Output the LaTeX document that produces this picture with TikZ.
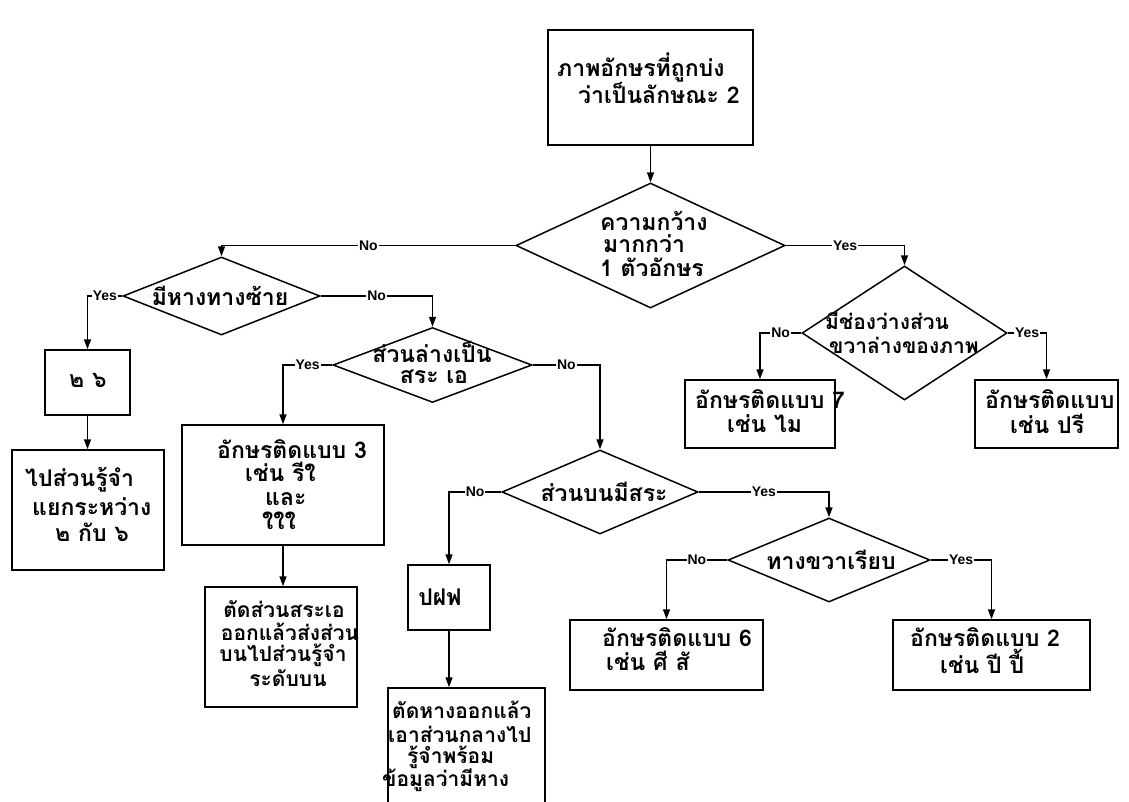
\documentclass[tikz,border=0pt]{standalone}
\usepackage{fontspec}
\newfontfamily\thaifont[Script=Thai]{Loma}
\setsansfont{Liberation Sans}
\usetikzlibrary{shapes.geometric,arrows.meta}
\begin{document}
\begin{tikzpicture}[x=1pt,y=-1pt,
  box/.style={draw, line width=1.5pt, rectangle, inner sep=0pt},
  dia/.style={draw, line width=1.5pt, diamond, inner sep=0pt},
  txt/.style={font=\thaifont\bfseries\fontsize{23}{25}\selectfont, inner sep=0pt, anchor=west},
  ctxt/.style={txt, anchor=center},
  small/.style={font=\thaifont\bfseries\fontsize{21}{23}\selectfont},
  lbl/.style={font=\sffamily\bfseries\fontsize{14}{15}\selectfont, fill=white, inner sep=1pt},
  con/.style={line width=1.5pt},
  arr/.style={con, -{Triangle[length=10pt,width=7pt]}}
]
\useasboundingbox (0,0) rectangle (1129,801);
\fill[white] (0,0) rectangle (1129,801);

% boxes
\node[box, minimum width=205pt, minimum height=115pt] (b0) at (650.5,87.5) {};
\node[box, minimum width=85pt, minimum height=65pt] (b26) at (87.5,382.5) {};
\node[box, minimum width=152pt, minimum height=120pt] (bgo) at (88,510) {};
\node[box, minimum width=202pt, minimum height=120pt] (b3) at (283,485) {};
\node[box, minimum width=152pt, minimum height=120pt] (bcut) at (281,647) {};
\node[box, minimum width=82pt, minimum height=65pt] (bpf) at (449,597.5) {};
\node[box, minimum width=157pt, minimum height=130pt] (btail) at (466.5,753) {};
\node[box, minimum width=193pt, minimum height=70pt] (b6) at (666.5,655) {};
\node[box, minimum width=197pt, minimum height=70pt] (b2) at (991.5,655) {};
\node[box, minimum width=150pt, minimum height=68pt] (b7) at (760,414) {};
\node[box, minimum width=143pt, minimum height=68pt] (bpri) at (1046.5,414) {};

% diamonds
\node[dia, minimum width=269pt, minimum height=125pt] (d1) at (650.5,245.5) {};
\node[dia, minimum width=197pt, minimum height=78pt] (d2) at (221.5,296) {};
\node[dia, minimum width=199pt, minimum height=75pt] (d3) at (432.5,365) {};
\node[dia, minimum width=196pt, minimum height=84pt] (d4) at (600,492) {};
\node[dia, minimum width=202pt, minimum height=84pt] (d5) at (829,560) {};
\node[dia, minimum width=205pt, minimum height=134pt] (d6) at (904.5,333) {};

% texts
\node[txt] (t0a) at (557,68) {ภาพอักษรที่ถูกบ่ง};
\node[txt] (t0b) at (578,93) {ว่าเป็นลักษณะ 2};
\node[txt] (td1a) at (600,221) {ความกว้าง};
\node[txt] (td1b) at (603,244) {มากกว่า};
\node[txt] (td1c) at (600,267) {1 ตัวอักษร};
\node[ctxt] (td2) at (220,296) {มีหางทางซ้าย};
\node[ctxt] (td3a) at (432,352) {ส่วนล่างเป็น};
\node[ctxt] (td3b) at (434,377) {สระ เอ};
\node[ctxt] (td4) at (604,492) {ส่วนบนมีสระ};
\node[ctxt] (td5) at (831,560) {ทางขวาเรียบ};
\node[txt, small] (td6a) at (825,321) {มีช่องว่างส่วน};
\node[txt, small] (td6b) at (829,345) {ขวาล่างของภาพ};
\node[ctxt] (t26) at (88,380) {๒ ๖};
\node[txt] (tgoa) at (25,480) {ไปส่วนรู้จำ};
\node[txt] (tgob) at (32,507) {แยกระหว่าง};
\node[txt] (tgoc) at (55,532) {๒ กับ ๖};
\node[txt] (t3a) at (217,449) {อักษรติดแบบ 3};
\node[txt] (t3b) at (245,472) {เช่น รีใ};
\node[txt] (t3c) at (265,499) {และ};
\node[txt] (t3d) at (262,521) {ใใใ};
\node[ctxt, small] (tcuta) at (284,609) {ตัดส่วนสระเอ};
\node[ctxt, small] (tcutb) at (290,632) {ออกแล้วส่งส่วน};
\node[ctxt, small] (tcutc) at (283,655) {บนไปส่วนรู้จำ};
\node[ctxt, small] (tcutd) at (288,678) {ระดับบน};
\node[ctxt] (tpf) at (440,597) {ปฝฟ};
\node[txt, small] (ttaila) at (392,710) {ตัดหางออกแล้ว};
\node[txt, small] (ttailb) at (388,734) {เอาส่วนกลางไป};
\node[txt, small] (ttailc) at (407,757) {รู้จำพร้อม};
\node[txt, small] (ttaild) at (382,780) {ข้อมูลว่ามีหาง};
\node[txt] (t6a) at (602,637) {อักษรติดแบบ 6};
\node[txt] (t6b) at (606,661) {เช่น ศี สั};
\node[txt] (t2a) at (910,637) {อักษรติดแบบ 2};
\node[txt] (t2b) at (940,661) {เช่น ปี ปี้};
\node[txt] (t7a) at (695,399) {อักษรติดแบบ 7};
\node[txt] (t7b) at (727,424) {เช่น ไม};
\node[txt] (tpria) at (985,399) {อักษรติดแบบ};
\node[txt] (tprib) at (1010,424) {เช่น ปรี};

% connectors
\draw[arr] (b0.south) -- (b0.south |- d1.north);
\draw[arr] (d1.west) -- node[lbl]{No} (d1.west -| d2.north) -- (d2.north);
\draw[arr] (d1.east) -- node[lbl]{Yes} (d1.east -| d6.north) -- (d6.north);
\draw[arr] (d2.west) -- node[lbl]{Yes} (d2.west -| b26.north) -- (b26.north);
\draw[arr] (b26.south) -- (b26.south |- bgo.north);
\draw[arr] (d2.east) -- node[lbl]{No} (d2.east -| d3.north) -- (d3.north);
\draw[arr] (d3.west) -- node[lbl]{Yes} (d3.west -| b3.north) -- (b3.north);
\draw[arr] (b3.south) -- (b3.south |- bcut.north);
\draw[arr] (d3.east) -- node[lbl]{No} (d3.east -| d4.north) -- (d4.north);
\draw[arr] (d4.west) -- node[lbl]{No} (d4.west -| bpf.north) -- (bpf.north);
\draw[arr] (bpf.south) -- (bpf.south |- btail.north);
\draw[arr] (d4.east) -- node[lbl]{Yes} (d4.east -| d5.north) -- (d5.north);
\draw[arr] (d5.west) -- node[lbl]{No} (d5.west -| b6.north) -- (b6.north);
\draw[arr] (d5.east) -- node[lbl]{Yes} (d5.east -| b2.north) -- (b2.north);
\draw[arr] (d6.west) -- node[lbl]{No} (d6.west -| b7.north) -- (b7.north);
\draw[arr] (d6.east) -- node[lbl]{Yes} (d6.east -| bpri.north) -- (bpri.north);
\end{tikzpicture}
\end{document}
